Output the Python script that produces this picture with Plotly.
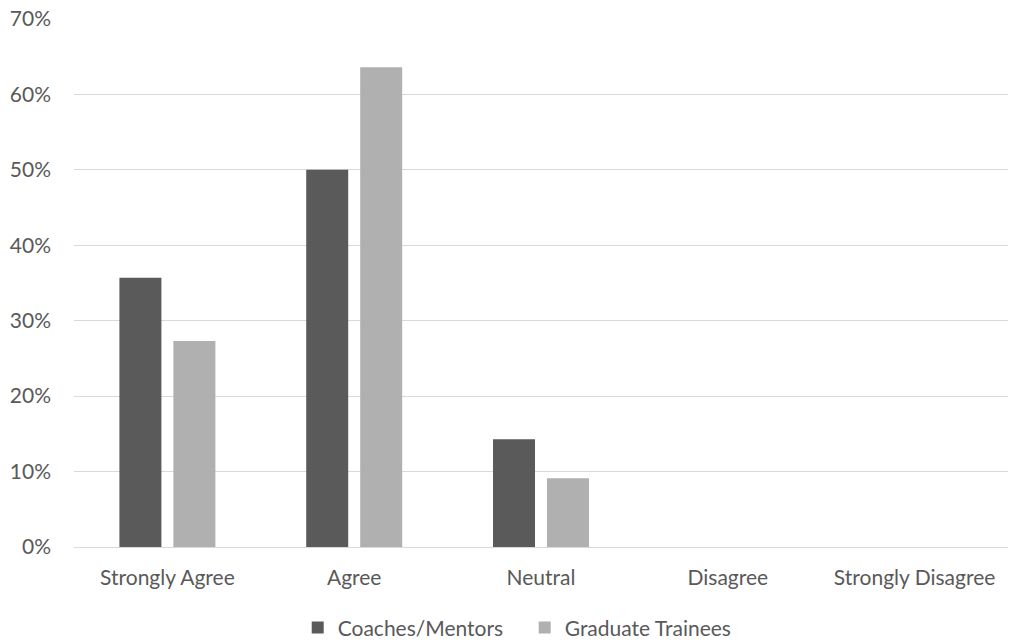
import plotly.graph_objects as go

categories = ["Strongly Agree", "Agree", "Neutral", "Disagree", "Strongly Disagree"]
coaches_mentors = [0.357, 0.500, 0.143, 0.0, 0.0]
graduate_trainees = [0.273, 0.636, 0.091, 0.0, 0.0]
y_ticks = [0, 0.1, 0.2, 0.3, 0.4, 0.5, 0.6, 0.7]

text_color = "#595959"
font_family = "Lato, 'Open Sans', sans-serif"
font_size = 21

fig = go.Figure()
fig.add_trace(go.Bar(
    name="Coaches/Mentors", x=categories, y=coaches_mentors,
    marker=dict(color="#5a5a5a", line=dict(width=0)),
))
fig.add_trace(go.Bar(
    name="Graduate Trainees", x=categories, y=graduate_trainees,
    marker=dict(color="#b0b0b0", line=dict(width=0)),
))

fig.update_layout(
    width=1011, height=644,
    margin=dict(l=74, r=3, t=19, b=97, autoexpand=False),
    paper_bgcolor="white", plot_bgcolor="white",
    barmode="group", bargap=0.422, bargroupgap=0.222,
    font=dict(family=font_family, size=font_size, color=text_color),
    showlegend=True,
    legend=dict(
        orientation="h", xref="container", yref="container",
        x=0.519, xanchor="center", y=0.025, yanchor="middle",
        font=dict(size=font_size, color=text_color), itemwidth=30,
        entrywidth=182, traceorder="normal",
    ),
    xaxis=dict(
        showgrid=False, showline=False, zeroline=False, ticks="",
        ticklabelstandoff=16,
        tickfont=dict(size=font_size, color=text_color),
    ),
    yaxis=dict(
        range=[0, 0.7], tickvals=y_ticks, tickformat=".0%",
        showgrid=True, gridcolor="#d9d9d9", gridwidth=1,
        zeroline=True, zerolinecolor="#d9d9d9", zerolinewidth=1,
        showline=False, ticks="", ticklabelstandoff=22,
        tickfont=dict(size=font_size, color=text_color),
    ),
)

fig.write_html("out.html")
